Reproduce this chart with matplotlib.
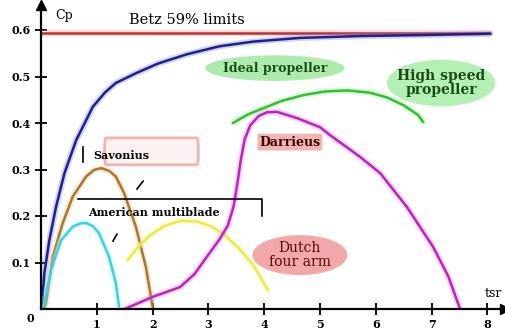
import matplotlib
matplotlib.use("Agg")
import matplotlib.pyplot as plt
from matplotlib.patches import Ellipse, FancyBboxPatch
import matplotlib.patheffects as pe

# ---- data (tip speed ratio vs power coefficient) ----
betz_limit = 0.593
betz_x = [0.0, 8.05]

ideal_x = [0.01, 0.06, 0.15, 0.27, 0.42, 0.63, 0.93, 1.15, 1.34, 1.7, 2.1, 2.62, 3.2, 3.8,
           4.64, 5.72, 6.79, 8.05]
ideal_y = [0.0, 0.077, 0.148, 0.22, 0.292, 0.363, 0.435, 0.466, 0.486, 0.507, 0.528, 0.548,
           0.565, 0.575, 0.583, 0.587, 0.589, 0.592]

savonius_x = [0.05, 0.09, 0.21, 0.39, 0.57, 0.81, 0.95, 1.08, 1.22, 1.34, 1.49, 1.70, 1.88, 2.0]
savonius_y = [0.0, 0.013, 0.112, 0.185, 0.242, 0.285, 0.299, 0.303, 0.297, 0.285, 0.249, 0.177,
              0.09, 0.005]

multiblade_x = [0.03, 0.06, 0.18, 0.36, 0.57, 0.7, 0.81, 0.93, 1.04, 1.22, 1.34, 1.40]
multiblade_y = [0.0, 0.013, 0.084, 0.148, 0.177, 0.184, 0.185, 0.178, 0.163, 0.112, 0.056, 0.005]

dutch_x = [1.55, 1.75, 1.95, 2.2, 2.5, 2.8, 3.05, 3.3, 3.55, 3.8, 4.07]
dutch_y = [0.105, 0.135, 0.158, 0.178, 0.19, 0.188, 0.178, 0.158, 0.13, 0.095, 0.04]

darrieus_x = [1.5, 2.0, 2.49, 2.75, 2.97, 3.2, 3.35, 3.45, 3.52, 3.58, 3.65, 3.75, 3.9, 4.05,
              4.23, 4.6, 5.0, 5.18, 5.72, 6.08, 6.56, 7.03, 7.3, 7.51]
darrieus_y = [0.0, 0.026, 0.047, 0.075, 0.112, 0.15, 0.18, 0.22, 0.27, 0.32, 0.365, 0.395,
              0.415, 0.423, 0.424, 0.41, 0.391, 0.374, 0.327, 0.292, 0.219, 0.133, 0.07, 0.0]

highspeed_x = [3.44, 3.7, 3.95, 4.3, 4.7, 5.1, 5.5, 5.9, 6.2, 6.5, 6.75, 6.85]
highspeed_y = [0.40, 0.418, 0.43, 0.447, 0.46, 0.468, 0.47, 0.465, 0.455, 0.438, 0.418, 0.402]

yticks = [0.1, 0.2, 0.3, 0.4, 0.5, 0.6]
ytick_labels = ["0.1", "0.2", "0.3", "0.4", "0.5", "0.6"]
xticks = [1, 2, 3, 4, 5, 6, 7, 8]
xtick_labels = ["1", "2", "3", "4", "5", "6", "7", "8"]

# ---- figure ----
fig = plt.figure(figsize=(5.06, 3.36), dpi=100)
ax = fig.add_axes([41 / 506, 27 / 336, 464 / 506, 304 / 336])
ax.set_xlim(0, 464 / 55.8)
ax.set_ylim(0, 304 / 465)

for s in ["top", "right"]:
    ax.spines[s].set_visible(False)
for s in ["left", "bottom"]:
    ax.spines[s].set_linewidth(1.6)
    ax.spines[s].set_color("black")
ax.plot(1, 0, ">", color="black", ms=7, transform=ax.transAxes, clip_on=False)
ax.plot(0, 1, "^", color="black", ms=7, transform=ax.transAxes, clip_on=False)

tickfont = dict(family="DejaVu Serif", weight="bold", size=8)
ax.set_xticks(xticks)
ax.set_xticklabels(xtick_labels, **tickfont)
ax.set_yticks(yticks)
ax.set_yticklabels(ytick_labels, **tickfont)
ax.tick_params(direction="inout", length=9, width=1.3, pad=3)
ax.text(-0.2, -0.02, "0", ha="center", va="center", **tickfont, clip_on=False)


def glow(color, w=4.5):
    return [pe.Stroke(linewidth=w, foreground=color, alpha=0.35), pe.Normal()]


line_kw = dict(lw=1.8, solid_joinstyle="round", solid_capstyle="round")

# label decorations
ax.add_patch(Ellipse((4.19, 0.518), 2.5, 0.055, facecolor="#9ee89e", edgecolor="none", alpha=0.85))
ax.add_patch(Ellipse((7.17, 0.486), 1.94, 0.10, facecolor="#b4f0b4", edgecolor="none"))
ax.add_patch(Ellipse((4.64, 0.116), 1.70, 0.086, facecolor="#f2a8a8", edgecolor="none"))
ax.add_patch(FancyBboxPatch((1.14, 0.310), 1.68, 0.058,
                            boxstyle="round,pad=0.0,rounding_size=0.025",
                            facecolor="#fdf2f2", edgecolor="#f0b4b4", lw=2.0,
                            mutation_aspect=1.0))

# curves
ax.plot(betz_x, [betz_limit, betz_limit], color="#c03030", path_effects=glow("#f0a0a0"), **line_kw)
ax.plot(ideal_x, ideal_y, color="#20208a", path_effects=glow("#8080e0"), **line_kw)
ax.plot(savonius_x, savonius_y, color="#a8782c", path_effects=glow("#f0c090"), **line_kw)
ax.plot(multiblade_x, multiblade_y, color="#40d0e0", path_effects=glow("#a0f0f8"), **line_kw)
ax.plot(dutch_x, dutch_y, color="#e8ec40", path_effects=glow("#f8f8a0"), **line_kw)
ax.plot(darrieus_x, darrieus_y, color="#b828b8", path_effects=glow("#f080f0"), **line_kw)
ax.plot(highspeed_x, highspeed_y, color="#30c030", path_effects=glow("#a0f0a0"), **line_kw)

# text annotations
serif = "DejaVu Serif"
ax.text(0.41, 0.632, "Cp", family=serif, size=9, ha="center", va="center")
ax.text(8.1, 0.034, "tsr", family=serif, size=9, ha="center", va="center")
ax.text(2.62, 0.621, "Betz 59% limits", family=serif, size=10.5, ha="center", va="center")
ax.text(4.19, 0.518, "Ideal propeller", family=serif, weight="bold", size=9,
        color="#1a4a1a", ha="center", va="center")
ax.text(7.17, 0.486, "High speed\npropeller", family=serif, weight="bold", size=10,
        color="#1a4a1a", ha="center", va="center", linespacing=0.95)
ax.text(4.46, 0.359, "Darrieus", family=serif, weight="bold", size=9, color="#3a0000",
        ha="center", va="center",
        bbox=dict(boxstyle="round,pad=0.15", facecolor="#f4b4b4", edgecolor="none"))
ax.text(4.64, 0.116, "Dutch\nfour arm", family=serif, size=10, color="#5a0a0a",
        ha="center", va="center", linespacing=0.95)
ax.text(0.93, 0.331, "Savonius", family=serif, weight="bold", size=8, ha="left", va="center")
ax.plot([0.75, 0.75], [0.316, 0.348], color="black", lw=1.2)
ax.plot([1.83, 1.72], [0.275, 0.258], color="black", lw=1.2)
ax.text(0.84, 0.2086, "American multiblade", family=serif, weight="bold", size=8,
        ha="left", va="center")
ax.plot([0.66, 3.96, 3.96], [0.2366, 0.2366, 0.200], color="black", lw=1.2)
ax.plot([1.36, 1.29], [0.161, 0.146], color="black", lw=1.2)

fig.savefig("out.png", dpi=100)
